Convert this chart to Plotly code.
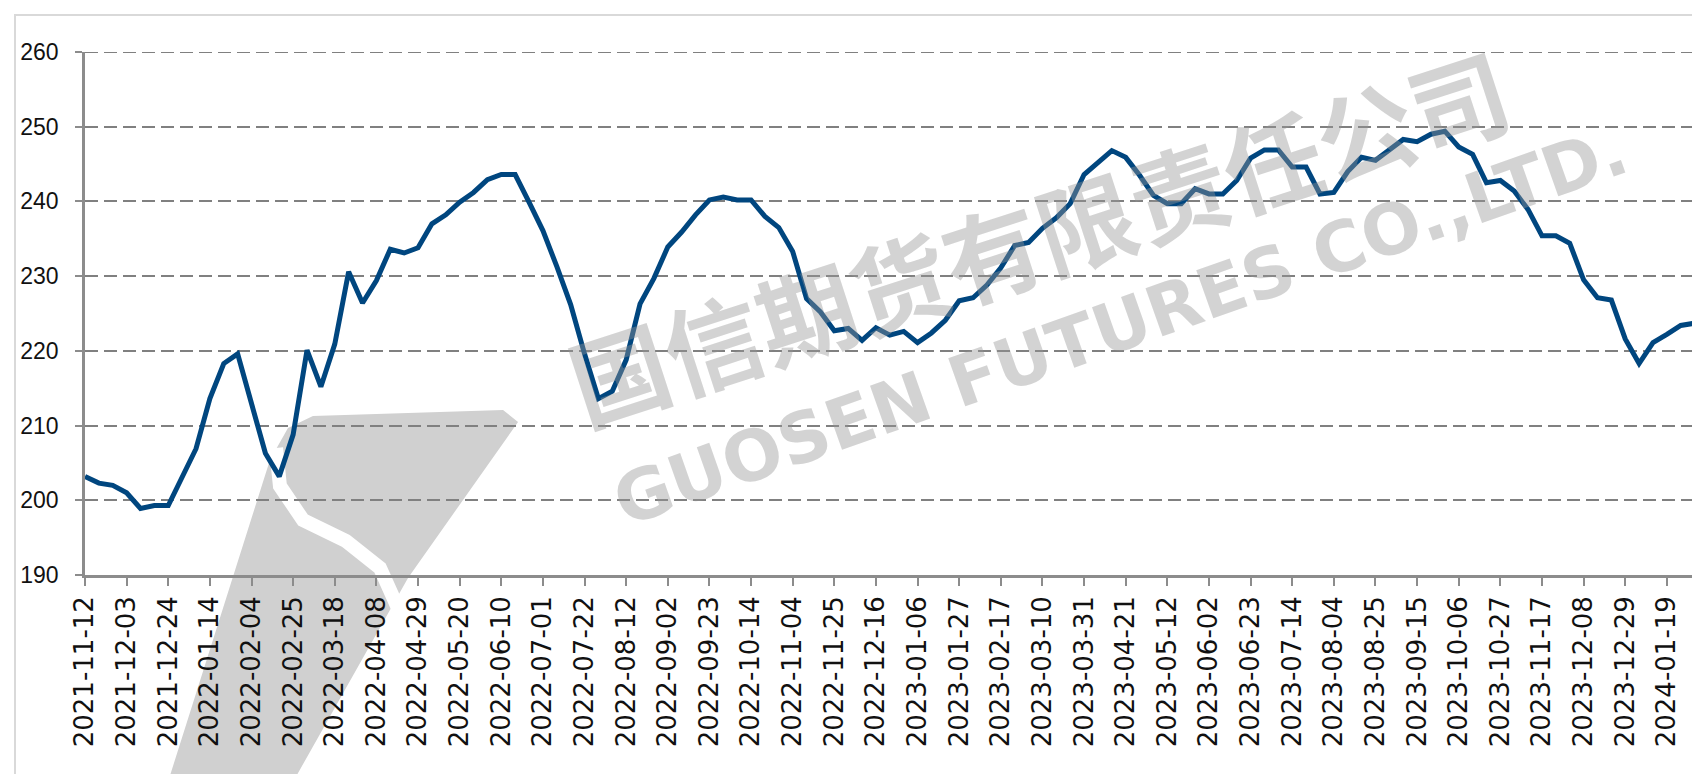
import pandas as pd
import plotly.graph_objects as go

# ---- data ----
start_date = "2021-11-12"
values = [203.2, 202.3, 202.0, 201.0, 198.9, 199.3, 199.3, 203.0, 206.9, 213.6,
          218.3, 219.6, 212.8, 206.3, 203.2, 208.8, 220.1, 215.2, 220.9, 230.6,
          226.4, 229.4, 233.6, 233.1, 233.8, 237.0, 238.2, 239.9, 241.2, 242.9,
          243.6, 243.6, 239.9, 236.1, 231.3, 226.2, 219.6, 213.6, 214.6, 218.8,
          226.3, 229.7, 233.9, 235.9, 238.2, 240.2, 240.6, 240.2, 240.2, 238.0,
          236.5, 233.3, 227.0, 225.2, 222.7, 223.0, 221.4, 223.1, 222.1, 222.6,
          221.1, 222.4, 224.1, 226.7, 227.1, 228.8, 231.1, 234.1, 234.5, 236.4,
          237.8, 239.7, 243.6, 245.3, 246.8, 245.9, 243.5, 240.8, 239.7, 239.7,
          241.7, 241.0, 241.0, 242.8, 245.8, 246.9, 246.9, 244.6, 244.6, 241.0,
          241.2, 244.0, 245.9, 245.5, 247.0, 248.3, 248.0, 249.0, 249.4, 247.3,
          246.3, 242.5, 242.8, 241.4, 238.9, 235.4, 235.4, 234.4, 229.5, 227.1,
          226.8, 221.6, 218.3, 221.1, 222.2, 223.4, 223.7]
dates = [d.strftime("%Y-%m-%d") for d in pd.date_range(start_date, periods=len(values), freq="7D")]
tick_labels = dates[::3]
y_ticks = [190, 200, 210, 220, 230, 240, 250, 260]
watermark_cn = "国信期货有限责任公司"
watermark_en = "GUOSEN FUTURES CO.,LTD."

W, H = 1700, 774
L, R, T, B = 77, 12, 44, 207
pw, ph = W - L - R, H - T - B

def px(x):
    return (x - L) / pw

def py(y):
    return (H - B - y) / ph

fig = go.Figure()
fig.add_trace(go.Scatter(
    x=dates, y=values, mode="lines",
    line=dict(color="#00467f", width=5),
    showlegend=False, hoverinfo="x+y",
))

# logo-like grey watermark shape
poly = [(160, 774), (262, 452), (280, 420), (305, 408), (495, 402), (510, 414), (400, 570), (285, 774)]
path = "M " + " L ".join(f"{px(a):.4f},{py(b):.4f}" for a, b in poly) + " Z"
curve = [(268, 440), (272, 478), (295, 512), (338, 533), (372, 560), (390, 600), (396, 660)]
cpath = "M " + " L ".join(f"{px(a):.4f},{py(b):.4f}" for a, b in curve)

shapes = [
    dict(type="path", xref="paper", yref="paper", path=path,
         fillcolor="rgba(208,208,208,1)", line=dict(width=0), layer="below"),
    dict(type="path", xref="paper", yref="paper", path=cpath,
         line=dict(color="white", width=14), layer="below"),
    dict(type="rect", xref="paper", yref="paper",
         x0=px(7), x1=px(1698), y0=py(772), y1=py(7),
         line=dict(color="#d9d9d9", width=2), layer="below"),
    # top gridline at 260 (plotly omits the grid line on the range edge)
    dict(type="line", xref="paper", yref="y", x0=0, x1=1, y0=260, y1=260,
         line=dict(color="#808080", width=2, dash="13px,6px"), layer="below"),
]

annotations = [
    dict(text="<b>" + watermark_cn + "</b>", xref="paper", yref="paper", x=px(1030), y=py(226),
         xanchor="center", yanchor="middle",
         showarrow=False, textangle=-18,
         font=dict(family="Noto Sans CJK SC", size=98, color="rgba(150,150,150,0.42)")),
    dict(text="<b>" + watermark_en + "</b>", xref="paper", yref="paper", x=px(1112), y=py(318),
         xanchor="center", yanchor="middle",
         showarrow=False, textangle=-19.5,
         font=dict(family="DejaVu Sans", size=70, color="rgba(150,150,150,0.42)")),
]

fig.update_layout(
    width=W, height=H,
    margin=dict(l=L, r=R, t=T, b=B),
    paper_bgcolor="white", plot_bgcolor="rgba(0,0,0,0)",
    shapes=shapes, annotations=annotations,
    xaxis=dict(
        type="category", range=[0, len(values) - 1 + 0.1],
        tickmode="array", tickvals=tick_labels, ticktext=tick_labels,
        tickangle=-90, ticks="outside", ticklen=8, tickcolor="#8c8c8c", tickwidth=2,
        showline=True, linecolor="#8c8c8c", linewidth=2.5,
        showgrid=False, zeroline=False,
        tickfont=dict(family="DejaVu Sans", size=26, color="#111111"),
    ),
    yaxis=dict(
        range=[190, 260], tickvals=y_ticks,
        ticks="outside", ticklen=7, tickcolor="#8c8c8c", tickwidth=2,
        showline=True, linecolor="#8c8c8c", linewidth=2.5,
        showgrid=True, gridcolor="#808080", gridwidth=2, griddash="13px,6px",
        zeroline=False, ticklabelstandoff=12,
        tickfont=dict(family="Liberation Sans Narrow, Liberation Sans", size=23, color="#111111"),
    ),
)

fig.write_html("out.html")
